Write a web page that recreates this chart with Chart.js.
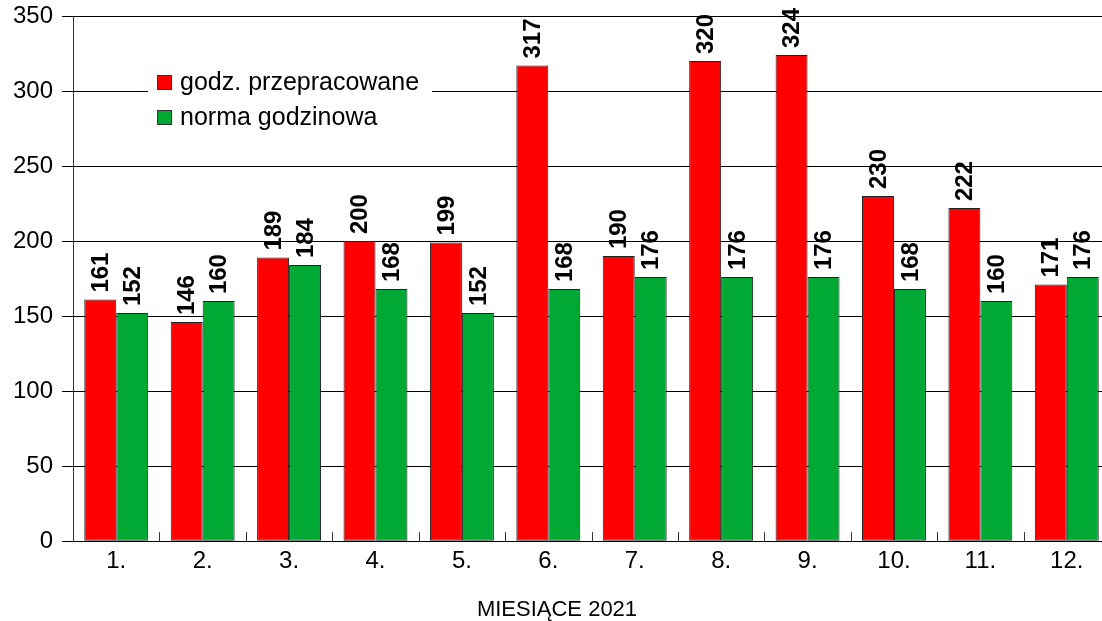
<!DOCTYPE html>
<html>
<head>
<meta charset="utf-8">
<script src="https://cdn.jsdelivr.net/npm/chart.js@4"></script>
<style>
  html, body { margin: 0; padding: 0; background: #fff; overflow: hidden; }
</style>
</head>
<body>
<canvas id="myChart" width="1110" height="621"></canvas>
<script>
const miesiace = ['1.', '2.', '3.', '4.', '5.', '6.', '7.', '8.', '9.', '10.', '11.', '12.'];
const godzPrzepracowane = [161, 146, 189, 200, 199, 317, 190, 320, 324, 230, 222, 171];
const normaGodzinowa = [152, 160, 184, 168, 152, 168, 176, 176, 176, 168, 160, 176];
const yTicks = [0, 50, 100, 150, 200, 250, 300, 350];

const FONT = '"Liberation Sans", Arial, sans-serif';

// etykiety z wartosciami nad slupkami (obrocone)
const valueLabels = {
  id: 'valueLabels',
  afterDatasetsDraw(chart) {
    const c = chart.ctx;
    c.save();
    c.font = 'bold 24px ' + FONT;
    c.fillStyle = '#000';
    c.textAlign = 'left';
    c.textBaseline = 'middle';
    chart.data.datasets.forEach((ds, i) => {
      chart.getDatasetMeta(i).data.forEach((bar, j) => {
        c.save();
        c.translate(bar.x + 1, bar.y - 7);
        c.rotate(-Math.PI / 2);
        c.fillText(String(ds.data[j]), 0, 0);
        c.restore();
      });
    });
    c.restore();
  }
};

// male kreski miedzy kategoriami na osi X
const categoryTicks = {
  id: 'categoryTicks',
  afterDraw(chart) {
    const c = chart.ctx;
    const x = chart.scales.x;
    const bottom = chart.chartArea.bottom;
    c.save();
    c.strokeStyle = '#333';
    c.lineWidth = 1;
    for (let i = 0; i <= miesiace.length; i++) {
      const px = Math.round(x.getPixelForValue(i - 0.5)) + 0.5;
      c.beginPath();
      c.moveTo(px, bottom - 9);
      c.lineTo(px, bottom);
      c.stroke();
    }
    c.restore();
  }
};

// legenda wewnatrz wykresu
const innerLegend = {
  id: 'innerLegend',
  afterDraw(chart) {
    const c = chart.ctx;
    const a = chart.chartArea;
    const x0 = a.left + 75;
    const y0 = a.top + 46;
    c.save();
    c.fillStyle = '#fff';
    c.fillRect(x0, y0, 284, 76);
    c.font = '25px ' + FONT;
    c.textBaseline = 'middle';
    chart.data.datasets.forEach((ds, i) => {
      const y = y0 + 20 + i * 35;
      c.fillStyle = ds.backgroundColor;
      c.fillRect(x0 + 9, y - 7, 15, 15);
      c.strokeStyle = '#333';
      c.lineWidth = 1;
      c.strokeRect(x0 + 9.5, y - 6.5, 14, 14);
      c.fillStyle = '#000';
      c.fillText(ds.label, x0 + 32, y + 1);
    });
    c.restore();
  }
};

new Chart(document.getElementById('myChart'), {
  type: 'bar',
  data: {
    labels: miesiace,
    datasets: [{
      label: 'godz. przepracowane',
      data: godzPrzepracowane,
      backgroundColor: '#ff0000',
      borderColor: '#222',
      borderWidth: 1,
      borderSkipped: false
    }, {
      label: 'norma godzinowa',
      data: normaGodzinowa,
      backgroundColor: '#00a933',
      borderColor: '#222',
      borderWidth: 1,
      borderSkipped: false
    }]
  },
  options: {
    responsive: false,
    animation: false,
    layout: { padding: { left: 4, right: 0, top: 16, bottom: 0 } },
    datasets: { bar: { categoryPercentage: 0.74, barPercentage: 1 } },
    plugins: {
      legend: { display: false },
      tooltip: { enabled: false },
      title: {
        display: true,
        position: 'bottom',
        text: 'MIESIĄCE 2021',
        color: '#000',
        font: { family: FONT, size: 22, weight: 'normal', lineHeight: 1 },
        padding: { top: 17, bottom: 0 }
      }
    },
    scales: {
      x: {
        grid: { display: false, drawTicks: false },
        border: { display: false },
        ticks: { color: '#000', font: { family: FONT, size: 24 }, padding: 6 }
      },
      y: {
        min: 0,
        max: 350,
        afterBuildTicks: (axis) => { axis.ticks = yTicks.map(v => ({ value: v })); },
        grid: { color: '#000', lineWidth: 1, tickLength: 11 },
        border: { color: '#333', width: 1 },
        ticks: { color: '#000', font: { family: FONT, size: 24, lineHeight: 0.5 }, padding: 9 }
      }
    }
  },
  plugins: [valueLabels, categoryTicks, innerLegend]
});
</script>
</body>
</html>
